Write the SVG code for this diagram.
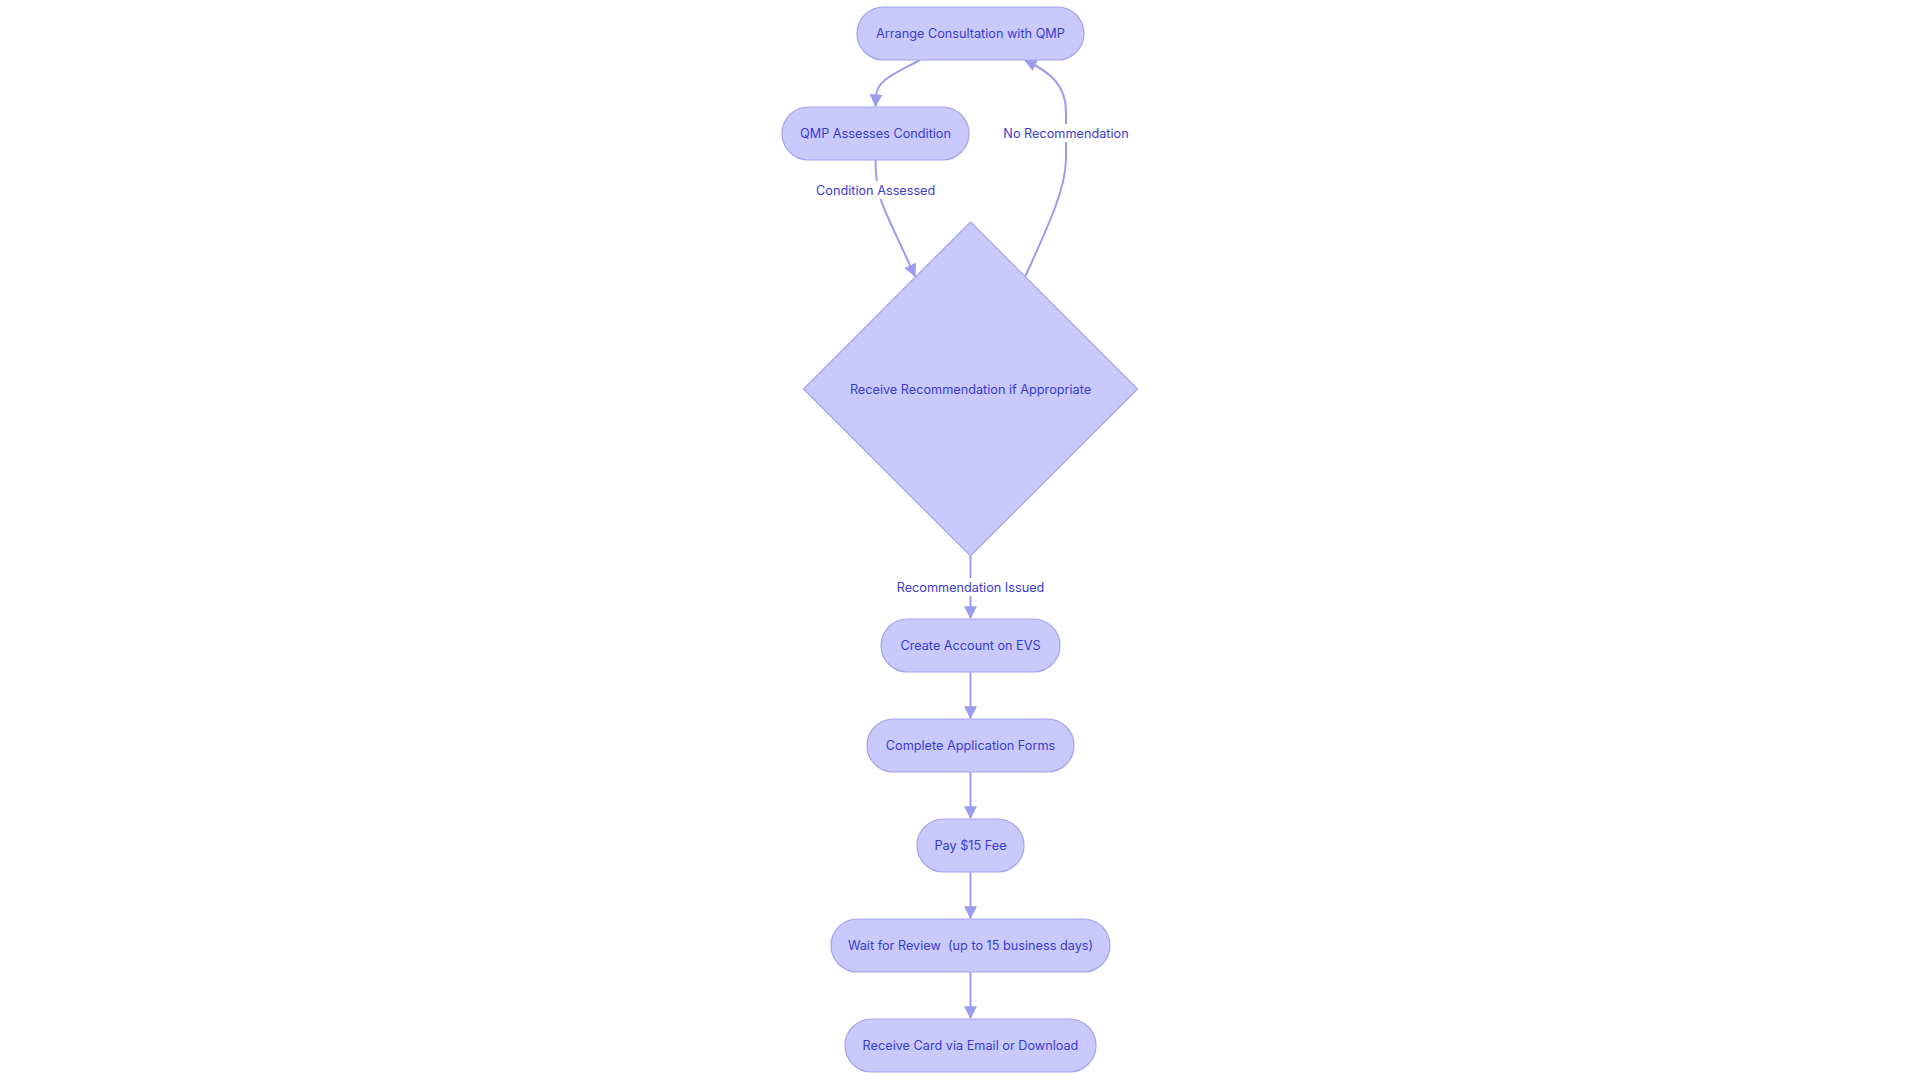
<svg xmlns="http://www.w3.org/2000/svg" width="1920" height="1083" viewBox="0 0 1920 1083">
<style>
.node{fill:#c9c9fc;stroke:#a3a3ef;stroke-width:1.2}
.lbl{font-family:Inter,"Noto Sans",sans-serif;font-size:12.7px;fill:#3b3bd4;text-anchor:middle}
.edge{fill:none;stroke:#9c9cee;stroke-width:2}
.lbg{fill:#ffffff}
</style>
<defs>
<marker id="arr" viewBox="0 0 10 10" refX="9" refY="5" markerWidth="6.5" markerHeight="6.5" markerUnits="strokeWidth" orient="auto">
<path d="M0,0 L10,5 L0,10 z" fill="#9c9cee"/>
</marker>
</defs>
<rect width="1920" height="1083" fill="#ffffff"/>
<g id="connectors">
<path class="edge" d="M920,60 C894,74 877,80 876,96 L875.5,106" marker-end="url(#arr)"/>
<path class="edge" d="M875.5,160 C876,190 880,200 890,222 L915,276" marker-end="url(#arr)"/>
<path class="edge" d="M1025,277 C1050,222 1065,190 1066,160 L1066,112 C1066,86 1052,73 1025,60" marker-end="url(#arr)"/>
<path class="edge" d="M970.5,556 L970.5,618" marker-end="url(#arr)"/>
<path class="edge" d="M970.5,672 L970.5,718" marker-end="url(#arr)"/>
<path class="edge" d="M970.5,772 L970.5,818" marker-end="url(#arr)"/>
<path class="edge" d="M970.5,872 L970.5,918" marker-end="url(#arr)"/>
<path class="edge" d="M970.5,972 L970.5,1018" marker-end="url(#arr)"/>
<g id="edge-labels">
<rect class="lbg" x="815" y="181" width="122" height="18"/>
<text class="lbl" x="875.7" y="194.6">Condition Assessed</text>
<rect class="lbg" x="1001" y="124" width="130" height="18"/>
<text class="lbl" x="1066" y="137.6">No Recommendation</text>
<rect class="lbg" x="895" y="578" width="151" height="18"/>
<text class="lbl" x="970.5" y="591.6">Recommendation Issued</text>
</g>
</g>
<g id="n1">
<rect class="node" x="857" y="7" width="227" height="53" rx="26.5"/>
<text class="lbl" x="970.5" y="38.1">Arrange Consultation with QMP</text>
</g>
<g id="n2">
<rect class="node" x="782" y="107" width="187" height="53" rx="26.5"/>
<text class="lbl" x="875.5" y="138.1">QMP Assesses Condition</text>
</g>
<g id="n3">
<polygon class="node" points="970.5,222 1137.5,389 970.5,556 803.5,389"/>
<text class="lbl" x="970.5" y="393.6">Receive Recommendation if Appropriate</text>
</g>
<g id="n4">
<rect class="node" x="881" y="619" width="179" height="53" rx="26.5"/>
<text class="lbl" x="970.5" y="650.1">Create Account on EVS</text>
</g>
<g id="n5">
<rect class="node" x="867" y="719" width="207" height="53" rx="26.5"/>
<text class="lbl" x="970.5" y="750.1">Complete Application Forms</text>
</g>
<g id="n6">
<rect class="node" x="917" y="819" width="107" height="53" rx="26.5"/>
<text class="lbl" x="970.5" y="850.1">Pay $15 Fee</text>
</g>
<g id="n7">
<rect class="node" x="831" y="919" width="279" height="53" rx="26.5"/>
<text class="lbl" x="970.5" y="950.1" xml:space="preserve" style="white-space:pre">Wait for Review  (up to 15 business days)</text>
</g>
<g id="n8">
<rect class="node" x="845" y="1019" width="251" height="53" rx="26.5"/>
<text class="lbl" x="970.5" y="1050.1">Receive Card via Email or Download</text>
</g>
</svg>
